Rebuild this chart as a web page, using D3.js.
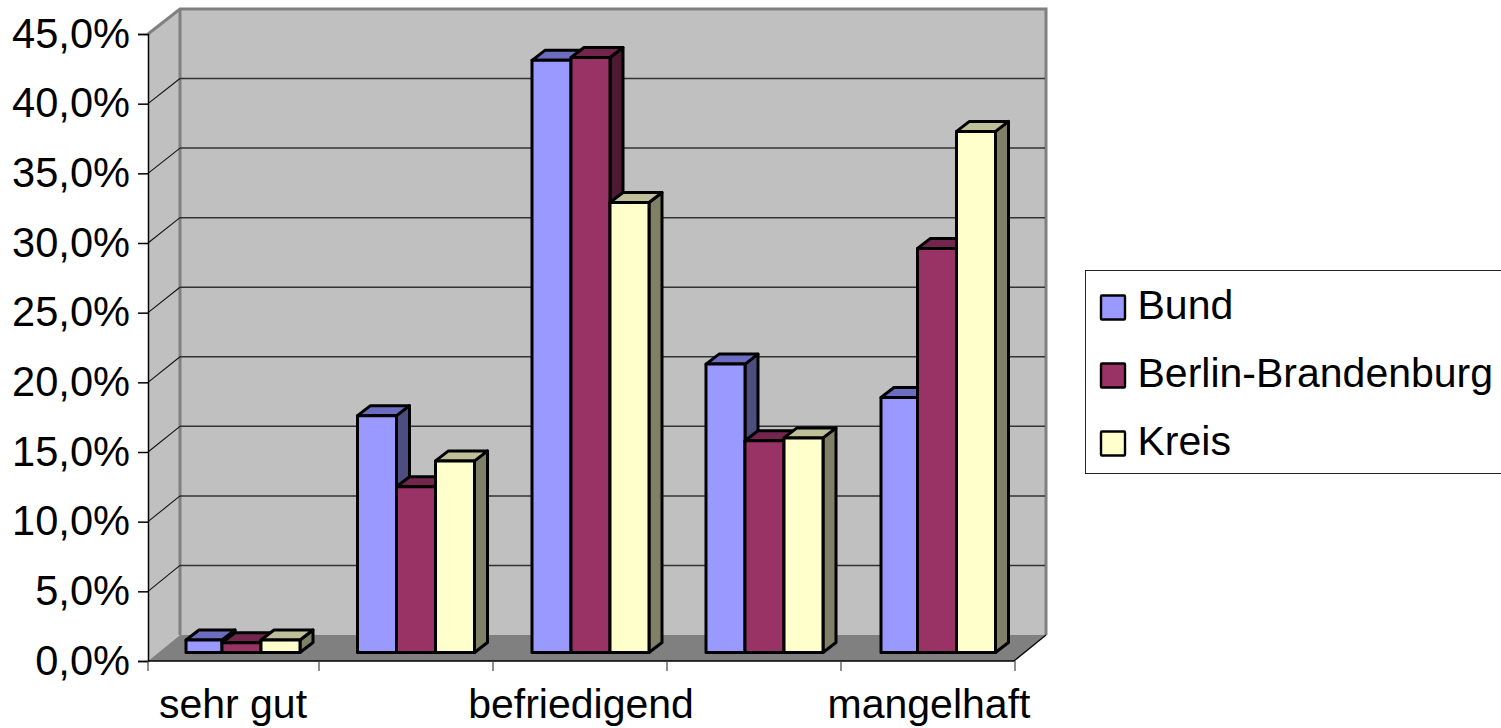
<!DOCTYPE html>
<html><head><meta charset="utf-8">
<script src="https://cdn.jsdelivr.net/npm/d3@7"></script>
<style>html,body{margin:0;padding:0;background:#fff;overflow:hidden}svg{display:block}text{font-family:"Liberation Sans",Arial,sans-serif;fill:#000}</style>
</head><body><svg width="1501" height="728"></svg>
<script>
const categories = ["sehr gut","gut","befriedigend","ausreichend","mangelhaft"];
const shownCategories = ["sehr gut","befriedigend","mangelhaft"];
const seriesNames = ["Bund","Berlin-Brandenburg","Kreis"];
const bund = [0.9,17.0,42.5,20.7,18.3];
const berlinBrandenburg = [0.7,11.9,42.7,15.2,29.0];
const kreis = [0.9,13.75,32.3,15.4,37.4];
const yTicks = [0,5,10,15,20,25,30,35,40,45];
const faceColors = ["#9999FF","#993366","#FFFFCC"];
const topColors = ["#6C6CC0","#73264D","#BFBF99"];
const sideColors = ["#4D4D80","#4D1A33","#808066"];
const allSeries = [bund,berlinBrandenburg,kreis];

const svg = d3.select("svg");
const L=148,R=1014,T=34,B=661,DX=32,DY=26;
const yFront = d3.scaleLinear().domain([0,45]).range([B,T]);
const yBack = d3.scaleLinear().domain([0,45]).range([B-DY,T-DY+1]);
const x = d3.scaleBand().domain(categories).range([145,1015]);
const poly = pts => pts.map(p=>p.join(",")).join(" ");

// walls and floor
svg.append("polygon").attr("points",poly([[L,T],[L+DX,T-25],[L+DX,B-DY],[L,B]])).attr("fill","#C0C0C0");
svg.append("rect").attr("x",L+DX).attr("y",T-25).attr("width",R-L).attr("height",B-DY-T+25).attr("fill","#C0C0C0");
svg.append("polygon").attr("points",poly([[L,B],[L+DX,B-DY],[R+DX,B-DY],[R,B]])).attr("fill","#808080");

// wall frame
const frame=svg.append("g").attr("fill","none").attr("stroke","#808080").attr("stroke-width",3);
frame.append("polyline").attr("points",poly([[L,T],[L+DX,T-25],[R+DX,T-25],[R+DX,B-DY]]));
frame.append("line").attr("x1",L+DX).attr("x2",L+DX).attr("y1",T-25).attr("y2",B-DY);

// gridlines
const grid=svg.append("g");
grid.selectAll("line.back").data(yTicks.filter(t=>t>0&&t<45)).join("line").attr("class","back")
  .attr("x1",L+DX).attr("x2",R+DX-1).attr("y1",d=>yBack(d)).attr("y2",d=>yBack(d))
  .attr("stroke","#333").attr("stroke-width",1.5);
grid.selectAll("line.side").data(yTicks.filter(t=>t>0&&t<45)).join("line").attr("class","side")
  .attr("x1",L).attr("x2",L+DX).attr("y1",d=>yFront(d)).attr("y2",d=>yBack(d))
  .attr("stroke","#111").attr("stroke-width",1.1);

// bars
const barW=39, depthX=13, depthY=10, base=8.5;
const groupNudge=[-1.5,-1,-0.5,-0.5,-2];
const firstBarInset=[3,0,0,0,2.5];
const barsG=svg.append("g").attr("stroke","#000").attr("stroke-width",3).attr("stroke-linejoin","round");
categories.forEach((c,i)=>{
  const cx=x(c)+x.bandwidth()/2+11+groupNudge[i];
  allSeries.forEach((vals,s)=>{
    let x0=cx-1.5*barW+s*barW, x1=x0+barW;
    if(s===0) x0+=firstBarInset[i];
    const y0=yFront(0)-base, y1=yFront(vals[i])-base;
    barsG.append("polygon").attr("fill",sideColors[s])
      .attr("points",poly([[x1,y1],[x1+depthX,y1-depthY],[x1+depthX,y0-depthY],[x1,y0]]));
    barsG.append("polygon").attr("fill",topColors[s])
      .attr("points",poly([[x0,y1],[x0+depthX,y1-depthY],[x1+depthX,y1-depthY],[x1,y1]]));
    barsG.append("rect").attr("fill",faceColors[s]).attr("x",x0).attr("y",y1).attr("width",x1-x0).attr("height",y0-y1);
  });
});

// axes
const loc=d3.formatLocale({decimal:",",thousands:".",grouping:[3],currency:["","€"]});
const f1=loc.format(".1f");
const yAxis=svg.append("g").attr("transform",`translate(${L},0)`)
  .call(d3.axisLeft(yFront).tickValues(yTicks).tickSize(10).tickPadding(8).tickFormat(d=>f1(d)+"%"));
yAxis.selectAll("text").attr("font-size",41.6).attr("font-family",null);
yAxis.selectAll("line,path").attr("stroke","#000").attr("stroke-width",1.5);

const xAxis=svg.append("g").attr("transform",`translate(0,${B})`);
xAxis.append("line").attr("x1",L).attr("x2",R).attr("y1",0).attr("y2",0).attr("stroke","#000").attr("stroke-width",1.5);
const tickXs=[L,...categories.map(c=>x(c)+x.bandwidth())];
xAxis.selectAll("line.tick").data(tickXs).join("line").attr("class","tick")
  .attr("x1",d=>d).attr("x2",d=>d).attr("y1",0).attr("y2",10).attr("stroke","#444").attr("stroke-width",1.2);
xAxis.selectAll("text").data(shownCategories).join("text")
  .attr("x",d=>x(d)+x.bandwidth()/2+1).attr("y",57).attr("text-anchor","middle").attr("font-size",41).text(d=>d);
svg.append("line").attr("x1",R).attr("y1",B).attr("x2",R+DX).attr("y2",B-DY).attr("stroke","#000").attr("stroke-width",1.2);

// legend
const leg=svg.append("g");
leg.append("rect").attr("x",1085.5).attr("y",270.5).attr("width",430).attr("height",203).attr("fill","#fff").attr("stroke","#222").attr("stroke-width",1);
const legY=d3.scalePoint().domain(seriesNames).range([307.5,443.5]);
seriesNames.forEach((n,i)=>{
  leg.append("rect").attr("x",1101).attr("y",legY(n)-12).attr("width",24).attr("height",24)
    .attr("fill",faceColors[i]).attr("stroke","#000").attr("stroke-width",2.4).attr("rx",1);
  leg.append("text").attr("x",1137.5).attr("y",legY(n)+11).attr("font-size",41).text(n);
});
</script></body></html>
